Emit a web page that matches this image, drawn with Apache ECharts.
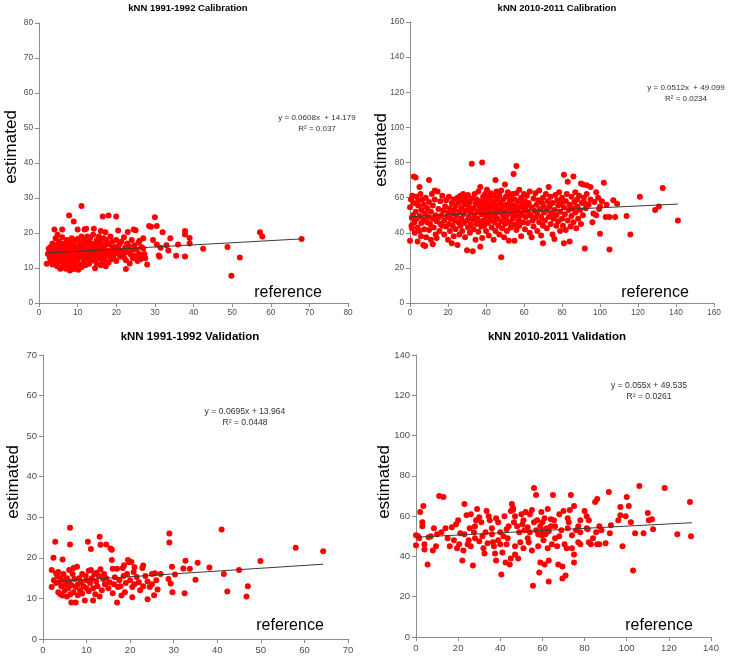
<!DOCTYPE html>
<html>
<head>
<meta charset="utf-8">
<script src="https://cdn.jsdelivr.net/npm/echarts@6/dist/echarts.min.js"></script>
<style>html,body{margin:0;padding:0;background:#fff}#c{width:740px;height:666px}</style>
</head>
<body>
<div id="c"></div>
<script>
// ---- data: [reference, estimated] ----
const cal9192 = [[2,11.2],[2.3,14],[2.5,15.5],[2.8,13],[3,16],[3,12.2],[3.2,14.8],[3.5,17],[3.5,11],[3.8,13.5],[4,15],[4,21],[4.2,12],[4.3,18.5],[4.5,16.5],[4.5,14],[4.7,10.5],[4.8,19.5],[5,13],[5,15.8],[5.2,17.5],[5.3,11.8],[5.5,9.8],[5.5,14.5],[5.7,16],[5.8,12.5],[6,21],[6,18.8],[6,10.2],[6.2,15],[6.3,13.2],[6.5,17],[6.5,11],[6.8,14],[7,12],[7,16.5],[7,9.8],[7.2,18],[7.3,13.5],[7.5,15.5],[7.5,11.2],[7.8,25],[7.8,14.2],[8,9.3],[8,17.2],[8,12.8],[8.2,10.5],[8.3,15.8],[8.5,13],[8.5,18.5],[8.7,11.5],[8.8,16.5],[9,23.3],[9,14.5],[9,9.7],[9.2,12.2],[9.3,17.8],[9.5,15],[9.5,10.8],[9.7,13.8],[10,21],[10,16.2],[10,12.5],[10,18.3],[10.2,9.5],[10.3,14.5],[10.5,11],[10.5,15.5],[10.7,17],[10.8,13.2],[11,27.7],[11,19],[11,10.2],[11.2,14],[11.3,16],[11.5,12],[11.5,18],[11.7,15],[11.8,21],[12,13.5],[12,16.8],[12,10.8],[12.2,21.2],[12.3,14.8],[12.5,19],[12.5,12.5],[12.7,15.8],[12.8,17.5],[13,13.8],[13,11.2],[13,16.3],[13.2,18.6],[13.5,14.5],[13.5,12.3],[13.7,15.2],[13.8,17],[14,19.5],[14,13],[14.2,21.2],[14.3,15.8],[14.5,9.9],[14.5,12],[14.7,16.8],[14.8,14.2],[15,18],[15,15],[15,11.2],[15.3,13.5],[15.5,16.5],[15.5,19],[15.7,12.8],[15.8,14.8],[16,20.6],[16,17.5],[16,10.8],[16.2,13.8],[16.3,15.5],[16.5,24.7],[16.5,11.8],[16.7,18.5],[16.8,14.2],[17,16.5],[17,12.6],[17.2,20.2],[17.3,10.5],[17.5,15],[17.5,18],[17.8,13.5],[18,25],[18,16.8],[18,11.5],[18.3,14.5],[18.5,19],[18.7,12.5],[19,15.8],[19,17.5],[19.3,13],[19.5,14.8],[19.7,16],[20,24.7],[20,12],[20,18],[20.3,14.2],[20.5,20.7],[20.5,15.5],[20.8,16.8],[21,13.3],[21.3,17.5],[21.5,14.8],[22,13],[22,18.8],[22.3,15.8],[22.5,9.7],[22.5,12.2],[22.8,17],[23,20.3],[23,14.5],[23.3,16.2],[23.5,11.3],[23.8,13.8],[24,18],[24,15],[24.3,12.8],[24.5,21],[24.7,16.5],[25,20.8],[25,13.5],[25.3,15.2],[25.5,12],[25.8,17.3],[26,14],[26,17.8],[26.3,12.5],[26.5,16],[26.8,13.2],[27,15.6],[27,18.5],[27.3,14],[27.5,12.8],[28,11],[28.5,22],[29,21.8],[29.5,18],[30,24.5],[30.5,16.7],[30.5,22],[31,13.6],[31.2,13.2],[31.5,15.8],[32,20.2],[33,16.5],[33.5,15],[34,18.5],[35.5,13.5],[36,16.7],[37.8,20.6],[37.8,19.6],[37.8,13.3],[39,18.6],[39,17],[42.5,15.5],[48.8,16],[49.8,7.8],[52,13],[57.2,20.2],[57.8,19],[68,18.3],[3,14.2],[3.7,15.8],[4.4,13.2],[5.1,16.8],[5.9,14.8],[6.6,15.6],[7.6,13],[8.9,15.2],[9.9,14],[10.9,15.8],[11.9,14.3],[12.9,15],[13.9,14],[14.9,16.2],[15.9,13.2],[16.9,15.2],[17.9,14.8],[18.9,13.8],[19.9,15.5],[21.9,14.2]];

const cal1011 = [[0,35.5],[0,54.5],[0.5,59],[0.8,44],[1,48.5],[1,42.5],[1.2,61],[1.5,50],[2,72],[2,57],[2.3,46],[2.5,40],[3,71.5],[3,52],[3.2,60.5],[3.5,48],[4,35],[4,43],[4.3,55.5],[4.5,58.5],[5,66],[5,41],[5.2,49.5],[5.5,62],[5.8,38],[6,53],[6,45.5],[6.5,59],[7,33],[7,47.5],[7.3,56],[7.5,42],[8,32.5],[8,51],[8.3,60],[8.5,37.5],[9,46],[9,54],[9.5,49],[10,70],[10,41.5],[10,57.5],[10.5,45],[11,52],[11,36],[11.5,62],[12,33.5],[12,48],[12,55.5],[12.5,43],[13,64],[13,59],[13.5,39],[13.5,50],[14,37],[14,46.5],[14.5,63.5],[15,53.5],[15,48.5],[15.5,41],[16,58],[16,45],[16.5,50],[17,44],[17,61],[17.5,52.5],[18,39],[18,47],[18.5,55],[19,43.5],[19,58.5],[19.5,49],[20,51.5],[20,36],[20.5,45],[20.5,60.5],[21,54],[21,41],[21.5,48],[22,34],[22,57],[22.5,51],[22.5,44],[23,59],[23,38],[23.5,47],[23.5,53],[24,55.5],[24,42],[24.5,49.5],[25,33],[25,60],[25.5,46],[25.5,57],[26,39],[26,52],[26.5,61],[26.5,44],[27,54],[27,48],[27.5,58.5],[27.5,41],[28,62],[28,50.5],[28.5,45.5],[28.5,56],[29,60],[29,37.5],[29.5,52.5],[30,30],[30,47],[30,58],[30.5,43],[30.5,61.5],[31,55],[31,49],[31.5,40],[31.5,57.5],[32,44.5],[32,52],[32.5,79.3],[32.5,59.5],[33,29.5],[33,47.5],[33.5,54],[33.5,42],[34,62],[34,50],[34.5,56.5],[34.5,36],[35,45],[35,59],[35.5,52],[35.5,48],[36,63.5],[36,40.5],[36.5,55],[36.5,46],[37,32],[37,58],[37,66],[37.5,50.5],[37.5,43.5],[38,80],[38,53.5],[38,37],[38.5,60.5],[38.5,47],[39,56],[39,44],[39.5,62],[39.5,51],[40,41],[40,58.5],[40,48.5],[40.5,54],[40.5,64.5],[41,45.5],[41,52],[41.5,60],[41.5,38.5],[42,50],[42,56.5],[42.5,47],[42.5,62.5],[43,43],[43,54.5],[43.5,58],[43.5,49],[44,36],[44,61],[44,52.5],[44.5,46],[44.5,57],[45,70],[45,41],[45,50.5],[45.5,63.5],[45.5,55],[46,48],[46,59.5],[46.5,44],[46.5,53],[47,61.5],[47,39],[47.5,51.5],[47.5,57],[48,26],[48,46.5],[48,64],[48.5,54],[48.5,42.5],[49,59],[49,49.5],[49.5,55.5],[49.5,37.5],[50,67.5],[50,52],[50,45],[50.5,60.5],[50.5,48],[51,56],[51,41],[51.5,63],[51.5,50.5],[52,35.5],[52,54],[52.5,46],[52.5,58.5],[53,61.5],[53,43],[53.5,51],[53.5,56],[54,48],[54,62],[54.5,73.5],[54.5,53],[55,35.5],[55,44.5],[55,59],[55.5,50],[55.5,55.5],[56,78],[56,41.5],[56,62.5],[56.5,52.5],[57,47],[57,58],[57.5,64.5],[57.5,44],[58,54.5],[58,49.5],[58.5,60],[58.5,38],[59,51],[59,56.5],[59.5,46],[60,62],[60,53],[60.5,42],[60.5,58],[61,49],[61,55],[61.5,61],[62,45.5],[62,52],[62.5,57],[63,40],[63,63.5],[63.5,50],[64,37.5],[64,54.5],[64.5,47],[65,59.5],[65,43.5],[65.5,52.5],[66,62.5],[66,48.5],[66.5,56],[67,41],[67,51],[67.5,58.5],[68,46],[68,64],[68.5,53.5],[69,38.5],[69,49],[69.5,57],[70,34],[70,44],[70,60],[70.5,51.5],[70.5,55],[71,47],[71.5,62],[72,52.5],[72,42.5],[72.5,58],[73,49],[73,66],[73.5,55],[74,45],[74,60.5],[74.5,51],[75,39],[75,57],[75.5,48],[76,36.5],[76,53],[76.5,61.5],[77,44],[77,50],[77.5,58.5],[78,55.5],[78,46.5],[78.5,63],[79,41],[79,52],[79.5,57],[80,48],[80,60],[80.5,44],[81,73],[81,34],[81,54.5],[81.5,50.5],[82,58],[82,41.5],[82.5,62],[83,69],[83,47],[83.5,53],[84,35],[84,56],[84.5,43.5],[85,60.5],[85,49.5],[85.5,54],[86,72],[86,46],[86.5,57.5],[87,51.5],[87,63],[87.5,42.5],[88,59],[88,55],[88.5,48],[89,61],[89.5,53],[90,68],[90,45],[90.5,57],[91,67.5],[91,50],[91.5,60],[92,31],[92,57],[92.5,54],[93,67],[93,62],[94,56],[95,66],[95,59],[96,46],[96.5,51],[97,57.5],[98,63],[98,50],[99,60],[99.5,53.5],[100,39.5],[100,55],[101,58],[102,68.5],[103,49],[103.5,56],[105,30.5],[105,49],[107,58.5],[108,49],[109,56.5],[114,49.5],[116,39],[121,60.5],[129,53],[131,55],[133,65.5],[141,47]];

const val9192 = [[2,12.8],[2,17],[2.4,20],[2.5,14.5],[2.8,24],[3,16.2],[3,13.8],[3.3,15.5],[3.5,16.5],[3.5,11.5],[3.8,14],[4,11],[4,15],[4.2,13],[4.5,19.6],[4.5,10.7],[4.7,16],[5,12],[5,14.5],[5.2,13.5],[5.5,10.5],[5.5,15],[5.8,12.5],[6,17],[6,14.2],[6.2,27.4],[6.2,23.3],[6.3,11],[6.5,9],[6.5,13.3],[6.8,16],[7,17.5],[7,11.5],[7.2,14.8],[7.5,9],[7.5,12.8],[7.8,17.8],[8,13.5],[8,10.8],[8.3,15],[8.5,12],[8.8,14],[9,16],[9,11.2],[9.3,13],[9.6,9.5],[9.8,15.5],[10,12.5],[10,14.5],[10.3,24],[10.5,16.8],[10.5,11.8],[10.8,13.8],[11,17],[11,22.2],[11.2,15],[11.5,9.5],[11.5,12.5],[11.8,16],[12,11],[12.2,14.2],[12.3,16.3],[12.5,13],[12.8,15.5],[13,25.2],[13,10.5],[13.2,23.2],[13.2,17.2],[13.5,12],[13.8,14.8],[14,16],[14.2,13.5],[14.5,23.3],[14.5,15],[15,12.5],[15.3,14],[15.5,22.3],[15.8,22],[15.8,19.5],[16,17.3],[16,11.3],[16.3,13.5],[16.5,15.2],[17,17.3],[17,9],[17.2,12.8],[17.5,14.5],[17.8,13],[18,10.7],[18.3,17.5],[18.5,15.5],[18.6,18.2],[18.8,11.5],[19,13.8],[19.3,16],[19.5,19.5],[19.8,18.9],[20,14.5],[20.3,19],[20.5,10.3],[20.5,12.8],[20.8,16.5],[21,17.7],[21,13.5],[21.5,15.3],[22,14],[22.3,12],[22.8,17.5],[23,18.1],[23,13],[23.5,15.5],[24,9.8],[24,14.2],[24.5,12.8],[25,16],[25,13.5],[25.5,10.8],[25.7,16.2],[26,14.5],[26.3,12.2],[27,16],[28.8,14.8],[29,26],[29,23.8],[29.3,13.7],[29.6,17.8],[29.7,11.5],[30.3,15.9],[32.2,17.4],[32.5,11.3],[32.7,19.3],[33.7,17.3],[35,14.6],[35.5,18.8],[38.2,17.6],[41,27],[41.5,16],[42.3,11.7],[45,17],[46.7,10.5],[47,13],[49.9,19.2],[58,22.5],[64.3,21.6]];

const val1011 = [[0,50.5],[0,45.5],[1,50],[1.5,49],[2,62],[3,57],[3,55],[3.5,65],[4,46],[4,43.5],[5.5,36],[6,49.5],[7,50],[8,43],[8.5,54],[9.5,45],[10,51],[11,70],[12,52],[13,69.5],[14,54],[15,49],[16,45],[17,54.5],[18,48],[19,56],[20,58],[19.5,44],[20.5,46],[21,51.5],[22,38],[22.5,43],[23,51],[23,66],[24,60.5],[24.5,46],[25,48],[26,61],[25.5,54],[26,45],[27,35.5],[27.5,52],[28,49],[28,55],[28.5,58],[29,63.5],[30,59.5],[30,47.5],[31,57],[31.5,50],[32,44],[32.5,41.5],[33,52],[33.5,62.5],[34,46.5],[34.5,60],[35,58],[36,51],[36,54],[36.5,47],[37,45],[37.5,41.5],[38,38],[38,59],[39,57],[39,48],[40,52],[40,46],[40.5,31],[41,42],[41.5,50],[42,60],[42.5,37],[43,53.5],[43,46],[43.5,49],[44,55],[44.5,36],[45,39],[45,62.5],[45.5,66],[46,64],[46,63],[46.5,57],[47,45],[47,41],[47,60],[48,55],[48.5,39],[49,52],[49.5,47],[50,61],[50.5,56],[51,44],[51,58],[51.5,53],[52,62],[53,49],[53,54.5],[53.5,47],[54,61],[54,52],[55,63],[55,43],[55.5,25.5],[56,74],[56,57],[57,70.5],[57,53],[57.5,58],[58,51],[58,45],[58.5,32],[59,55],[59,37],[59.5,62],[59.5,50.5],[60,57],[60,53],[60.5,48],[61,59],[61,36],[61.5,51],[62,54],[62.5,63.5],[62.5,44],[63,27.5],[63,38],[63,52.5],[64,55],[64,58.5],[64.5,46],[65,70.5],[65.5,58],[66,49],[66,55],[67,45],[67.5,36],[68,61],[68,50],[69,53],[69.5,35],[69.5,29],[70,62.5],[70.5,46],[71,30.5],[71.5,44],[72,59],[72,54],[72.5,57],[73,63],[73.5,70.5],[74,44],[74,50.5],[75,65],[75,41],[75,37],[76,53],[77,55],[77,47],[78,46],[78,52],[78,58],[80,62.5],[81,54],[81,60],[81.5,53.5],[82,47],[82,58],[83,46],[84,49],[85,67],[85.5,52],[86,68.5],[86,46],[87,55],[87,46],[88,53],[90,46.5],[91.5,72],[92,51.5],[92.5,55.5],[96,58],[97,64.5],[97,60.5],[98,45],[99.5,60],[100,69.5],[101,65],[102,57],[103,33],[104,51.5],[106,75],[108,51.5],[110,61.5],[110.5,58],[112,58.5],[112.5,53.5],[118,74],[124,51],[130,67],[130.5,50]];

const panelData = [cal9192, cal1011, val9192, val1011];
const panelTitles = ['kNN 1991-1992 Calibration', 'kNN 2010-2011 Calibration', 'kNN 1991-1992 Validation', 'kNN 2010-2011 Validation'];
const trendSlopes = [0.0608, 0.0512, 0.0695, 0.055];
const trendIntercepts = [14.179, 49.099, 13.964, 49.535];
const trendXRange = [[2.2, 68], [0, 141], [2.1, 64.3], [0, 131]];
const eqTexts = ['y = 0.0608x  + 14.179', 'y = 0.0512x  + 49.099', 'y = 0.0695x + 13.964', 'y = 0.055x + 49.535'];
const r2Texts = ['R\u00b2 = 0.037', 'R\u00b2 = 0.0234', 'R\u00b2 = 0.0448', 'R\u00b2 = 0.0261'];
const axisMax = [80, 160, 70, 140];
const axisStep = [10, 20, 10, 20];

// ---- layout ----
const grids = [
  {left: 39, top: 23, width: 309, height: 280},
  {left: 410, top: 22, width: 304, height: 281},
  {left: 43, top: 355, width: 305, height: 284},
  {left: 416, top: 355, width: 295, height: 282}
];
const titlePos = [[188, 8, 9.5], [557, 8, 9.5], [190, 337, 11.5], [557, 337, 11.5]];
const ylabPos = [[11, 147], [381, 150], [13, 482], [384, 482]];
const reflabPos = [[288, 293], [655, 293], [290, 626], [659, 626]];
const eqPos = [[317, 118, 8], [686, 88, 8], [245, 412, 8.6], [649, 386, 8.6]];
const tickFont = [8.3, 8.3, 9.5, 9.5];

const FONT = 'Liberation Sans';
const chart = echarts.init(document.getElementById('c'), null, {renderer: 'canvas'});
const xAxes = [], yAxes = [], series = [], graphics = [];
for (let i = 0; i < 4; i++) {
  const common = {
    type: 'value', gridIndex: i, min: 0, max: axisMax[i], interval: axisStep[i],
    splitLine: {show: false},
    axisLine: {show: true, lineStyle: {color: '#8c8c8c', width: 1}},
    axisTick: {show: true, inside: false, length: 4, lineStyle: {color: '#8c8c8c'}},
    axisLabel: {color: '#4d4d4d', fontSize: tickFont[i], fontFamily: FONT, margin: 6}
  };
  xAxes.push(Object.assign({}, common));
  yAxes.push(Object.assign({}, common));
  series.push({
    type: 'scatter', xAxisIndex: i, yAxisIndex: i, data: panelData[i],
    symbol: 'circle', symbolSize: 6, itemStyle: {color: '#ff0000', opacity: 1}, z: 2
  });
  const [x0, x1] = trendXRange[i];
  series.push({
    type: 'line', xAxisIndex: i, yAxisIndex: i, symbol: 'none', silent: true, z: 3,
    lineStyle: {color: '#3a3a3a', width: 1},
    data: [[x0, trendSlopes[i] * x0 + trendIntercepts[i]], [x1, trendSlopes[i] * x1 + trendIntercepts[i]]]
  });
  graphics.push({type: 'text', x: titlePos[i][0], y: titlePos[i][1],
    style: {text: panelTitles[i], fill: '#000', font: 'bold ' + titlePos[i][2] + 'px ' + FONT, textAlign: 'center', textVerticalAlign: 'middle'}});
  graphics.push({type: 'text', x: ylabPos[i][0], y: ylabPos[i][1], rotation: Math.PI / 2,
    style: {text: 'estimated', fill: '#000', font: '17px ' + FONT, textAlign: 'center', textVerticalAlign: 'middle'}});
  graphics.push({type: 'text', x: reflabPos[i][0], y: reflabPos[i][1],
    style: {text: 'reference', fill: '#000', font: '16px ' + FONT, textAlign: 'center', textVerticalAlign: 'middle'}});
  graphics.push({type: 'text', x: eqPos[i][0], y: eqPos[i][1],
    style: {text: eqTexts[i], fill: '#333', font: eqPos[i][2] + 'px ' + FONT, textAlign: 'center', textVerticalAlign: 'middle'}});
  graphics.push({type: 'text', x: eqPos[i][0], y: eqPos[i][1] + 10.5,
    style: {text: r2Texts[i], fill: '#333', font: eqPos[i][2] + 'px ' + FONT, textAlign: 'center', textVerticalAlign: 'middle'}});
}
chart.setOption({
  animation: false,
  backgroundColor: '#ffffff',
  grid: grids,
  xAxis: xAxes,
  yAxis: yAxes,
  series: series,
  graphic: graphics
});
</script>
</body>
</html>
